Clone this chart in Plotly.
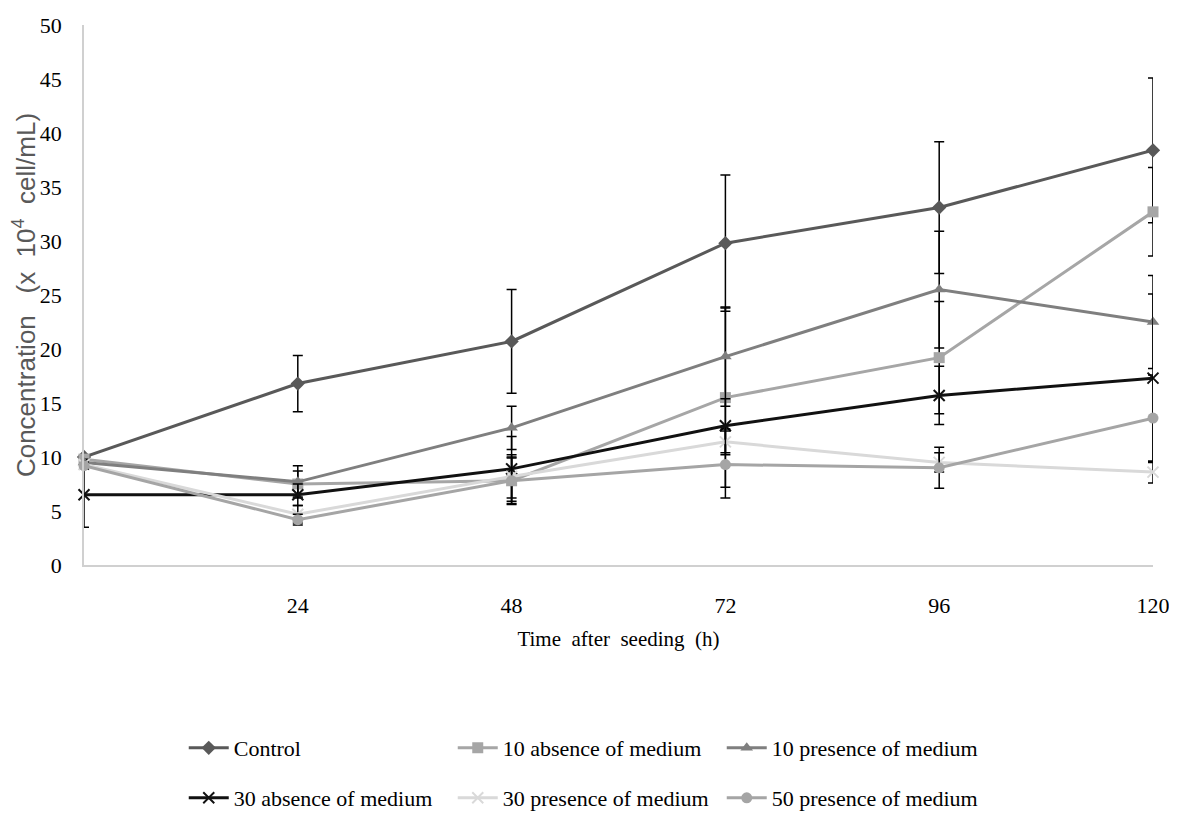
import plotly.graph_objects as go

hours = [0, 24, 48, 72, 96, 120]
tick_labels = ["24", "48", "72", "96", "120"]
tick_hours = [24, 48, 72, 96, 120]

series_names = ["Control", "10 absence of medium", "10 presence of medium",
                "30 absence of medium", "30 presence of medium", "50 presence of medium"]

control = [10.0, 16.8, 20.7, 29.8, 33.1, 38.4]
control_err = [0.2, 2.6, 4.8, 6.3, 6.1, 6.7]
abs10 = [9.8, 7.5, 7.8, 15.5, 19.2, 32.7]
abs10_err = [0.3, 1.2, 2.1, 8.3, 5.2, 4.1]
pres10 = [9.5, 7.7, 12.7, 19.3, 25.5, 22.5]
pres10_err = [0.3, 1.5, 2.0, 4.6, 5.4, 4.3]
abs30 = [6.5, 6.5, 8.9, 12.9, 15.7, 17.3]
abs30_err = [3.0, 1.0, 3.0, 2.5, 2.7, 7.8]
pres30 = [9.3, 4.7, 8.2, 11.4, 9.5, 8.6]
pres30_err = [0.3, 0.8, 2.0, 1.2, 0.9, 1.0]
pres50 = [9.2, 4.2, 7.8, 9.3, 9.0, 13.6]
pres50_err = [0.3, 0.5, 2.2, 3.1, 1.9, 4.0]

values = [control, abs10, pres10, abs30, pres30, pres50]
errors = [control_err, abs10_err, pres10_err, abs30_err, pres30_err, pres50_err]
colors = ["#595959", "#A6A6A6", "#7F7F7F", "#111111", "#D9D9D9", "#A5A5A5"]
symbols = ["diamond", "square", "triangle-up", "x-thin-open", "x-thin-open", "circle"]
legend_ids = ["legend", "legend", "legend", "legend2", "legend2", "legend2"]

fig = go.Figure()
for name, v, e, c, s, lg in zip(series_names, values, errors, colors, symbols, legend_ids):
    if s == "x-thin-open":
        marker = dict(symbol=s, size=11, color=c, line=dict(color=c, width=2))
    else:
        marker = dict(symbol=s, size=11, color=c)
    fig.add_trace(go.Scatter(
        x=hours, y=v, name=name, mode="lines+markers", cliponaxis=False,
        line=dict(color=c, width=3), marker=marker,
        error_y=dict(type="data", array=e, visible=True, color="#000000",
                     thickness=1.5, width=5),
        legend=lg,
    ))

serif = "Liberation Serif"
sans = "Arial"
leg_common = dict(orientation="h", xanchor="left", yanchor="middle", yref="container",
                  entrywidth=214, entrywidthmode="pixels",
                  font=dict(family=serif, size=22, color="#000000"),
                  bgcolor="rgba(0,0,0,0)", itemwidth=40, traceorder="normal")

# page body has an 8px margin, so the figure is 8px smaller than the window
W, H = 1169, 808
fig.update_layout(
    width=W, height=H,
    margin=dict(l=76, r=24, t=17, b=251),
    paper_bgcolor="white", plot_bgcolor="white",
    font=dict(family=serif, size=22, color="#000000"),
    xaxis=dict(range=[0, 120], tickvals=tick_hours, ticktext=tick_labels,
               showgrid=False, zeroline=False, showline=True, linecolor="#D0D0D0",
               linewidth=1.5, ticks="", ticklabelstandoff=20, automargin=False,
               tickfont=dict(family=serif, size=22, color="#000000"),
               title=dict(text="Time  after  seeding  (h)", standoff=14,
                          font=dict(family=serif, size=21, color="#000000"))),
    yaxis=dict(range=[0, 50], dtick=5, showgrid=False, zeroline=False,
               showline=True, linecolor="#D0D0D0", linewidth=1.5, ticks="",
               ticklabelstandoff=16, automargin=False,
               tickfont=dict(family=serif, size=22, color="#000000"),
               title=dict(text="\u00a0\u00a0\u00a0Concentration   (x  10<sup>4</sup>  cell/mL)",
                          standoff=6,
                          font=dict(family=sans, size=26, color="#595959"))),
    legend=dict(x=(183 - 84) / 1061, y=1 - 740 / H, **leg_common),
    legend2=dict(x=(183 - 84) / 1061, y=1 - 790 / H, **leg_common),
)

fig.write_html("out.html")
